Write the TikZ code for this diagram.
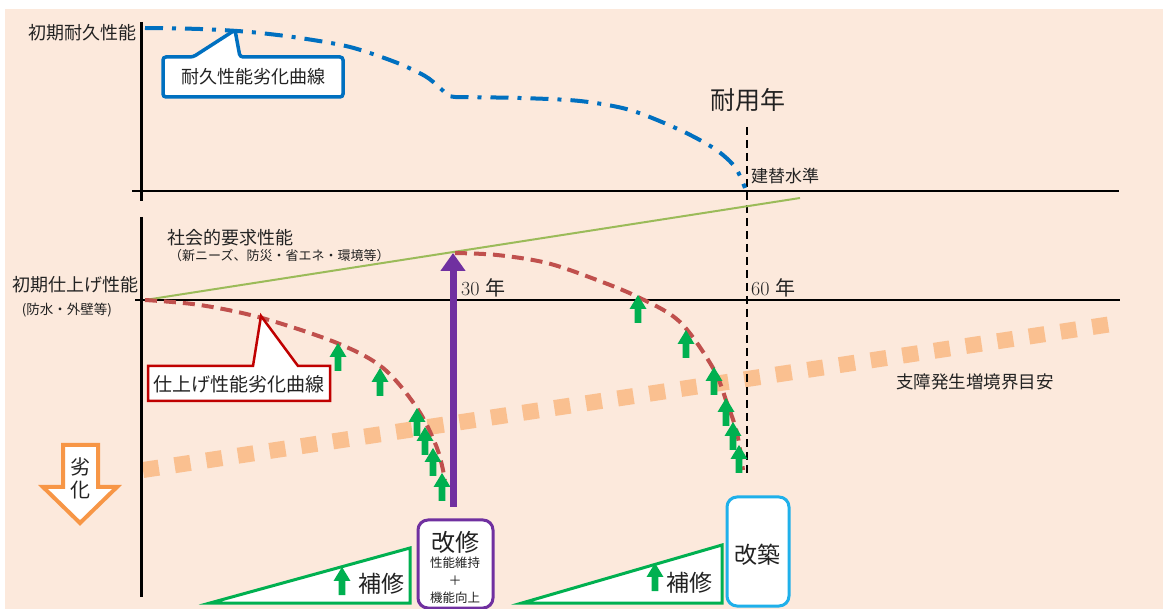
\documentclass[tikz,border=0pt]{standalone}
\usepackage{fontspec}
\newfontfamily\jp{Noto Sans CJK JP}
\usetikzlibrary{arrows.meta}
\definecolor{bgpeach}{HTML}{FCE9DC}
\definecolor{dotorange}{HTML}{FAC090}
\definecolor{socgreen}{HTML}{9BBB59}
\definecolor{curvered}{HTML}{C0504D}
\definecolor{calloutred}{HTML}{C00000}
\definecolor{durblue}{HTML}{0070C0}
\definecolor{renopurple}{HTML}{7030A0}
\definecolor{repgreen}{HTML}{00B050}
\definecolor{rebuildblue}{HTML}{1FB0EA}
\definecolor{degorange}{HTML}{F79646}
\definecolor{txt}{HTML}{222222}
\tikzset{
  jpf/.style={font=\jp\fontsize{#1}{#1}\selectfont},
  garrow/.pic={\fill[repgreen] (0,0) -- (8.5,14) -- (3.3,14) -- (3.3,28) -- (-3.3,28) -- (-3.3,14) -- (-8.5,14) -- cycle;},
  axisline/.style={line width=2.6pt, black},
  reddash/.style={curvered, line width=4pt, dash pattern=on 12pt off 7pt},
  wedge/.style={draw=repgreen, line width=3pt, fill=white, line join=miter},
}
\begin{document}
\begin{tikzpicture}[x=1pt,y=-1pt, every node/.style={inner sep=0pt, text=txt}]
\clip (0,0) rectangle (1163,609);
\fill[white] (0,0) rectangle (1163,609);
\fill[bgpeach] (5,9) rectangle (1163,609);

% orange threshold (dotted squares)
\coordinate (oS) at (143,470);
\coordinate (oE) at (1112,324);
\draw[dotorange, line width=16pt, dash pattern=on 16pt off 16pt] (oS) -- (oE);

% axes
\coordinate (axTop) at (141,22);
\coordinate (axMidA) at (141,201);
\coordinate (axMidB) at (141,217);
\coordinate (axBot) at (141,597);
\draw[line width=3pt] (axTop) -- (axMidA);
\draw[line width=3pt] (axMidB) -- (axBot);

\coordinate (hA1) at (132,191);
\coordinate (hA2) at (1119,191);
\coordinate (hB1) at (135,300);
\coordinate (hB2) at (1120,300);
\draw[axisline] (hA1) -- (hA2);
\draw[axisline] (hB1) -- (hB2);

% service life dashed line
\coordinate (svTop) at (747,127);
\coordinate (svBot) at (747,474);
\draw[line width=2.4pt, dash pattern=on 8pt off 5pt] (svTop) -- (svBot);

% social demand line
\coordinate (gS) at (145,300);
\coordinate (gE) at (800,198);
\draw[socgreen, line width=2pt] (gS) -- (gE);

% durability curve
\draw[durblue, line width=4pt, dash pattern=on 18pt off 9pt on 4pt off 9pt]
  plot[smooth, tension=0.5] coordinates {(145,28) (200,29) (250,32) (300,38) (350,47) (395,62) (425,76) (440,88) (448,96)}
  -- plot[smooth, tension=0.5] coordinates {(455,97) (520,98) (580,101) (630,110) (680,130) (715,149) (735,167) (745,188)};

% finish degradation curves
\draw[reddash] plot[smooth, tension=0.55] coordinates {(145,300) (200,305) (262,318) (337,343) (383,368) (417,408) (437,448) (445,480)};
\coordinate (p30) at (453,253);
\draw[reddash] plot[smooth, tension=0.55] coordinates {(455,253) (497,255) (547,263) (597,280) (640,298) (680,322) (713,368) (727,403) (737,433) (743,470)};

% callouts
\draw[durblue, line width=3.5pt, fill=white, rounded corners=3pt]
  (163,57) -- (193,57) -- (235,30) -- (240,57) -- (343,57) -- (343,97) -- (163,97) -- cycle;
\node[jpf=18] (durlbl) at (253,77) {耐久性能劣化曲線};

\draw[calloutred, line width=2.5pt, fill=white]
  (148,366) -- (253,366) -- (261,316) -- (298,366) -- (330,366) -- (330,401) -- (148,401) -- cycle;
\node[jpf=19] (finlbl) at (239,384) {仕上げ性能劣化曲線};

% green repair arrows
\foreach \p in {(338,343),(380,368),(417,408),(425,427),(433,448),(442,473),
                (638,295),(686,330),(714,367),(726,398),(733,422),(739,445)}
  \pic at \p {garrow};

% purple renovation arrow
\coordinate (pBot) at (453,507);
\draw[renopurple, line width=7pt, -{Triangle[length=18pt,width=24pt]}] (pBot) -- (p30);

% degradation arrow
\draw[degorange, line width=4pt, fill=white, line join=miter]
  (63,445) -- (98,445) -- (98,487) -- (117,487) -- (80,523) -- (43,487) -- (63,487) -- cycle;
\node[jpf=20] (deg1) at (80,467) {劣};
\node[jpf=20] (deg2) at (80,490) {化};

% bottom wedges
\draw[wedge] (210,603) -- (410,603) -- (410,548) -- cycle;
\draw[wedge] (522,603) -- (722,603) -- (722,545) -- cycle;
\pic at (342,567) {garrow};
\pic at (655,563) {garrow};
\node[jpf=23] (rep1) at (381,584) {補修};
\node[jpf=23] (rep2) at (689,583) {補修};

% renovation box
\draw[renopurple, line width=3pt, fill=white, rounded corners=10pt] (418,520) rectangle (493,608);
\node[jpf=24] (reno) at (455,542) {改修};
\node[jpf=12.5] (reno1) at (455,563) {性能維持};
\node[jpf=13] (reno2) at (455,581) {＋};
\node[jpf=12.5] (reno3) at (455,598) {機能向上};

% rebuild box
\draw[rebuildblue, line width=3pt, fill=white, rounded corners=10pt] (727,497) rectangle (789,606);
\node[jpf=23] (rebuild) at (757,555) {改築};

% labels
\node[jpf=18] (initdur) at (82,33) {初期耐久性能};
\node[jpf=25] (life) at (748,100) {耐用年};
\node[jpf=17, anchor=west] (rebuildlv) at (751,176) {建替水準};
\node[jpf=18, anchor=west] (social) at (167,238) {社会的要求性能};
\node[jpf=13, anchor=west] (socialsub) at (169,256) {（新ニーズ、防災・省エネ・環境等）};
\node[jpf=18, anchor=east] (initfin) at (139,285) {初期仕上げ性能};
\node[jpf=13.5] (initfinsub) at (67,310) {(防水・外壁等)};
\node[jpf=17.5, anchor=west] (thresh) at (896,382) {支障発生増境界目安};
\node[anchor=west, font=\fontsize{20}{20}\selectfont] (y30) at (461,288) {30 {\jp 年}};
\node[anchor=west, font=\fontsize{20}{20}\selectfont] (y60) at (751,288) {60 {\jp 年}};
\end{tikzpicture}
\end{document}
